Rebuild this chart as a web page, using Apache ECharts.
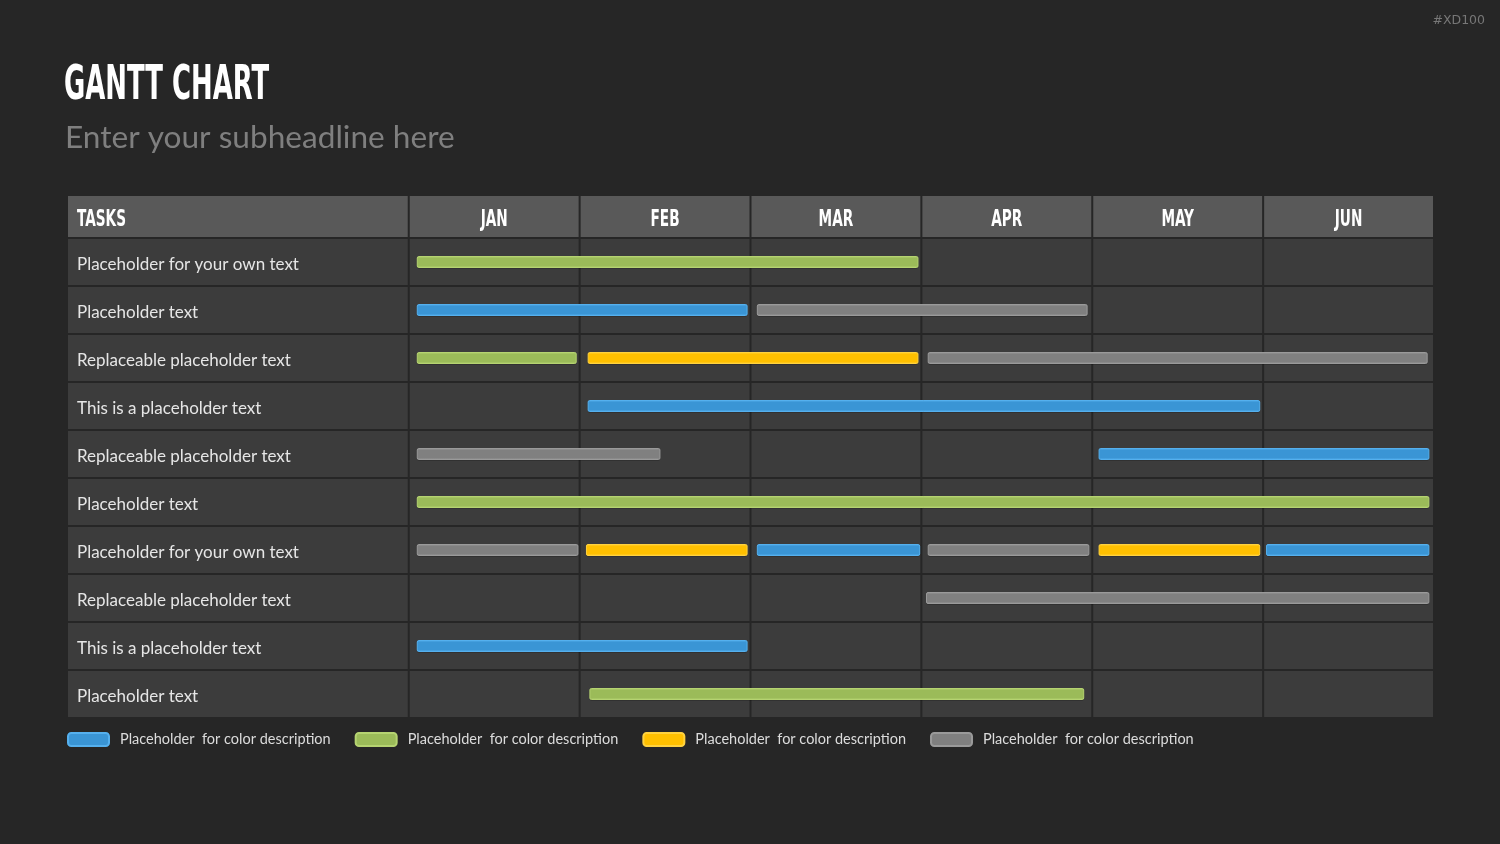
<!DOCTYPE html>
<html>
<head>
<meta charset="utf-8">
<title>Gantt Chart</title>
<script src="https://cdn.jsdelivr.net/npm/echarts@6/dist/echarts.min.js"></script>
<style>
  html, body { margin: 0; padding: 0; background: #262626; }
  #main { width: 1500px; height: 844px; }
</style>
</head>
<body>
<div id="main"></div>
<script>
// ---- data ----
const tasks = [
  'Placeholder for your own text',
  'Placeholder text',
  'Replaceable placeholder text',
  'This is a placeholder text',
  'Replaceable placeholder text',
  'Placeholder text',
  'Placeholder for your own text',
  'Replaceable placeholder text',
  'This is a placeholder text',
  'Placeholder text'
]
const months = ['JAN', 'FEB', 'MAR', 'APR', 'MAY', 'JUN']
const taskHeader = 'TASKS'
const legendText = 'Placeholder  for color description'

// bars: [start (months from JAN), end, task index]
const blueBars = [
  [0.05, 1.98, 1],
  [1.05, 4.98, 3],
  [4.04, 5.97, 4],
  [2.04, 2.99, 6],
  [5.02, 5.97, 6],
  [0.05, 1.98, 8]
]
const greenBars = [
  [0.05, 2.98, 0],
  [0.05, 0.98, 2],
  [0.05, 5.97, 5],
  [1.06, 3.95, 9]
]
const yellowBars = [
  [1.05, 2.98, 2],
  [1.04, 1.98, 6],
  [4.04, 4.98, 6]
]
const grayBars = [
  [2.04, 3.97, 1],
  [3.04, 5.96, 2],
  [0.05, 1.47, 4],
  [0.05, 0.99, 6],
  [3.04, 3.98, 6],
  [3.03, 5.97, 7]
]

const colors = {
  blue: { fill: '#3a95d5', edge: '#55b0ee' },
  green: { fill: '#9bbb59', edge: '#b5d371' },
  yellow: { fill: '#ffc000', edge: '#ffd23f' },
  gray: { fill: '#808080', edge: '#9a9a9a' }
}

const condensed = '"Liberation Sans Narrow", "DejaVu Sans Condensed", "Roboto", sans-serif'
const bodyFont = 'Lato, "Open Sans", sans-serif'
const headerH = 42

const chartDom = document.getElementById('main')
const myChart = echarts.init(chartDom)

// table body cells, one item per task row
const renderCells = (params, api) => {
  const row = api.value(0)
  const band = api.size([0, 1])[1]
  const cy = api.coord([0, row])[1]
  const children = []
  const cols = [[-2, 0]].concat(months.map((m, i) => [i, i + 1]))
  cols.forEach(([a, b]) => {
    const x0 = api.coord([a, row])[0]
    const x1 = api.coord([b, row])[0]
    children.push({
      type: 'rect',
      shape: { x: x0 + 1, y: cy - band / 2 + 1, width: x1 - x0 - 2, height: band - 2 },
      style: { fill: '#3c3c3c' }
    })
  })
  return { type: 'group', children }
}

// header cells: [start, end, label, align]
const headerData = [[-2, 0, taskHeader, 'left']].concat(months.map((m, i) => [i, i + 1, m, 'center']))
const renderHeader = (params, api) => {
  const a = api.value(0)
  const b = api.value(1)
  const band = api.size([0, 1])[1]
  const top = api.coord([0, 0])[1] - band / 2
  const x0 = api.coord([a, 0])[0]
  const x1 = api.coord([b, 0])[0]
  const item = headerData[params.dataIndex]
  const left = item[3] === 'left'
  return {
    type: 'group',
    children: [
      {
        type: 'rect',
        shape: { x: x0 + 1, y: top - headerH, width: x1 - x0 - 2, height: headerH - 1 },
        style: { fill: '#595959' }
      },
      {
        type: 'text',
        x: left ? x0 + 10 : (x0 + x1) / 2,
        y: top - headerH / 2 + 3,
        scaleX: 0.66,
        style: {
          text: item[2],
          fill: '#ffffff',
          font: 'bold 23px ' + condensed,
          align: left ? 'left' : 'center',
          verticalAlign: 'middle'
        }
      }
    ]
  }
}

const barRenderer = (c) => (params, api) => {
  const row = api.value(2)
  const p0 = api.coord([api.value(0), row])
  const p1 = api.coord([api.value(1), row])
  const h = 11
  return {
    type: 'group',
    children: [
      {
        type: 'rect',
        shape: { x: p0[0], y: p0[1] - h / 2 + 1, width: p1[0] - p0[0], height: h, r: 1.5 },
        style: { fill: 'rgba(0,0,0,0.35)' }
      },
      {
        type: 'rect',
        shape: { x: p0[0], y: p0[1] - h / 2, width: p1[0] - p0[0], height: h, r: 1.5 },
        style: {
          fill: new echarts.graphic.LinearGradient(0, 0, 0, 1, [
            { offset: 0, color: c.edge },
            { offset: 0.2, color: c.fill },
            { offset: 0.8, color: c.fill },
            { offset: 1, color: c.edge }
          ]),
          stroke: c.edge,
          lineWidth: 1
        }
      }
    ]
  }
}

const barSeries = (name, data, c) => ({
  name,
  type: 'custom',
  renderItem: barRenderer(c),
  data,
  encode: { x: [0, 1], y: 2 },
  itemStyle: { color: c.fill, borderColor: c.edge, borderWidth: 1 },
  z: 5
})

let option = {
  backgroundColor: '#262626',
  animation: false,
  graphic: [
    {
      type: 'text',
      x: 64,
      y: 87,
      scaleX: 0.6,
      style: {
        text: 'GANTT CHART',
        fill: '#ffffff',
        font: 'bold 48px ' + condensed,
        verticalAlign: 'middle'
      }
    },
    {
      type: 'text',
      x: 65,
      y: 138,
      style: {
        text: 'Enter your subheadline here',
        fill: '#7f7f7f',
        font: '31.6px ' + bodyFont,
        verticalAlign: 'middle'
      }
    },
    {
      type: 'text',
      right: 15,
      top: 14,
      style: {
        text: '#XD100',
        fill: '#777777',
        font: '12.5px "DejaVu Sans", sans-serif'
      }
    }
  ],
  legend: {
    left: 67,
    top: 732,
    padding: 0,
    icon: 'roundRect',
    itemWidth: 41,
    itemHeight: 13,
    itemGap: 24,
    data: ['blue', 'green', 'yellow', 'gray'],
    formatter: () => legendText,
    textStyle: { color: '#dcdcdc', fontSize: 14.5, fontFamily: bodyFont, padding: [0, 0, 0, 6] },
    selectedMode: false
  },
  grid: { left: 67, right: 66, top: 238, bottom: 126 },
  xAxis: { type: 'value', min: -2, max: 6, interval: 1, show: false },
  yAxis: {
    type: 'category',
    data: tasks,
    inverse: true,
    z: 10,
    axisLine: { show: false },
    axisTick: { show: false },
    splitLine: { show: false },
    axisLabel: {
      inside: true,
      margin: 10,
      formatter: (v) => '{t|' + v + '}',
      rich: {
        t: { color: '#e6e6e6', fontSize: 17, fontFamily: bodyFont, padding: [6, 0, 0, 0] }
      }
    }
  },
  series: [
    {
      name: 'cells',
      type: 'custom',
      renderItem: renderCells,
      data: tasks.map((t, i) => [i]),
      encode: { y: 0 },
      silent: true,
      z: 1
    },
    {
      name: 'header',
      type: 'custom',
      renderItem: renderHeader,
      data: headerData.map((d) => [d[0], d[1]]),
      encode: { x: [0, 1] },
      clip: false,
      silent: true,
      z: 1
    },
    barSeries('blue', blueBars, colors.blue),
    barSeries('green', greenBars, colors.green),
    barSeries('yellow', yellowBars, colors.yellow),
    barSeries('gray', grayBars, colors.gray)
  ]
}

option && myChart.setOption(option)
</script>
</body>
</html>
